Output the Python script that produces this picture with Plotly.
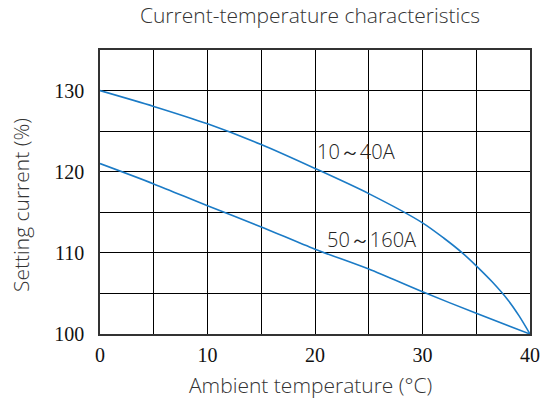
import plotly.graph_objects as go

temp_a = [0, 5, 10, 15, 20, 25, 30, 32, 33.7, 35, 36.5, 38, 39, 40]
curr_a = [130, 128.05, 125.9, 123.35, 120.4, 117.3, 113.7, 111.8, 110.0, 108.4, 106.4, 104.1, 102.2, 100]
temp_b = [0, 5, 10, 15, 20, 25, 30, 35, 40]
curr_b = [121.0, 118.5, 115.8, 113.2, 110.45, 108.0, 105.2, 102.55, 100]
label_a = "10～40A"
label_b = "50～160A"
x_ticks = [0, 10, 20, 30, 40]
y_ticks = [100, 110, 120, 130]

blue = "#1b7bc6"
sans = "Open Sans"
serif = "Liberation Serif, Times New Roman, serif"
fig = go.Figure()
fig.add_trace(go.Scatter(x=temp_a, y=curr_a, mode="lines", line=dict(color=blue, width=1.6, shape="spline", smoothing=0.8), showlegend=False))
fig.add_trace(go.Scatter(x=temp_b, y=curr_b, mode="lines", line=dict(color=blue, width=1.6, shape="spline", smoothing=0.8), showlegend=False))

fig.add_annotation(x=23.8, y=122.5, text=label_a, showarrow=False, font=dict(family=sans, size=20, color="#222", weight=300))
fig.add_annotation(x=25.3, y=111.6, text=label_b, showarrow=False, font=dict(family=sans, size=20, color="#222", weight=300))

fig.add_annotation(xref="paper", yref="paper", x=(310 - 100) / 430, y=(334 - 385) / 284,
                   text="Ambient temperature (°C)", showarrow=False, xanchor="center", yanchor="middle",
                   font=dict(family=sans, size=21, color="#333", weight=300))
fig.add_annotation(xref="paper", yref="paper", x=(21 - 100) / 430, y=(334 - 205) / 284, textangle=-90,
                   text="Setting current (%)", showarrow=False, xanchor="center", yanchor="middle",
                   font=dict(family=sans, size=21, color="#333", weight=300))

fig.update_layout(
    width=541, height=404,
    margin=dict(l=100, r=11, t=50, b=70),
    paper_bgcolor="white", plot_bgcolor="white",
    title=dict(text="Current-temperature characteristics", x=0.573, xanchor="center", y=0.962, yanchor="middle",
               font=dict(family=sans, size=21, color="#333", weight=300)),
)
fig.update_xaxes(range=[0, 40], tickvals=x_ticks, showgrid=True, gridcolor="black", gridwidth=1.2, automargin=False,
                 minor=dict(dtick=5, showgrid=True, gridcolor="black", gridwidth=1.2),
                 showline=True, linecolor="#333", linewidth=1.5, mirror=True, zeroline=False,
                 ticks="outside", ticklen=2, tickcolor="rgba(0,0,0,0)",
                 tickfont=dict(family=serif, size=20, color="#111"))
fig.update_yaxes(range=[100, 135], tickvals=y_ticks, showgrid=True, gridcolor="black", gridwidth=1.2, automargin=False,
                 minor=dict(dtick=5, showgrid=True, gridcolor="black", gridwidth=1.2),
                 showline=True, linecolor="#333", linewidth=1.5, mirror=True, zeroline=False,
                 ticks="outside", ticklen=10, tickcolor="rgba(0,0,0,0)",
                 tickfont=dict(family=serif, size=20, color="#111"))
fig.write_html("out.html", config={"displayModeBar": False},
               post_script="document.body.style.margin='0';document.body.style.overflow='hidden';")
